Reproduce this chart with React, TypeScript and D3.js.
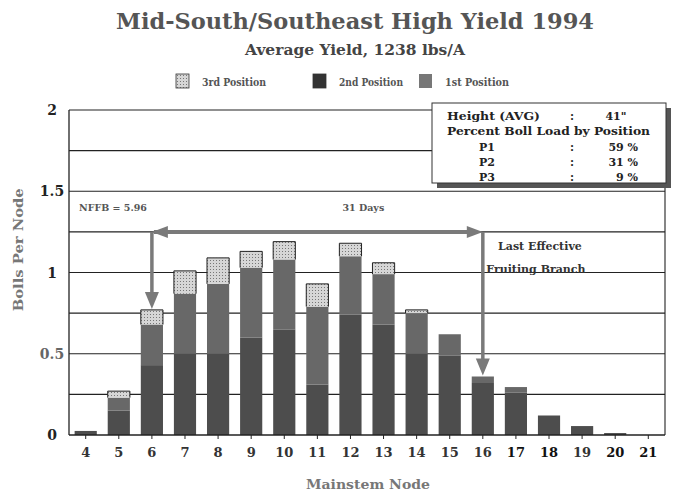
import React, { useEffect, useRef } from 'react';
import * as d3 from 'd3';

// Mainstem nodes and bolls per node by fruiting position
const nodes = ['4', '5', '6', '7', '8', '9', '10', '11', '12', '13', '14', '15', '16', '17', '18', '19', '20', '21'];
const pos1 = [0.025, 0.15, 0.43, 0.5, 0.5, 0.6, 0.65, 0.31, 0.74, 0.68, 0.5, 0.49, 0.32, 0.26, 0.12, 0.055, 0.012, 0];
const pos2 = [0, 0.08, 0.25, 0.37, 0.43, 0.43, 0.43, 0.48, 0.36, 0.31, 0.25, 0.13, 0.04, 0.035, 0, 0, 0, 0];
const pos3 = [0, 0.04, 0.09, 0.14, 0.16, 0.1, 0.11, 0.14, 0.08, 0.07, 0.02, 0, 0, 0, 0, 0, 0, 0];
const yTicks = [0, 0.5, 1, 1.5, 2];
const gridValues = [0.25, 0.5, 0.75, 1, 1.25, 1.5, 1.75, 2];
const insetRows = [
  ['Height (AVG)', ':', '41"'],
  ['P1', ':', '59 %'],
  ['P2', ':', '31 %'],
  ['P3', ':', '9 %'],
];

const App: React.FC = () => {
  const ref = useRef<SVGSVGElement | null>(null);

  useEffect(() => {
    const W = 678, H = 496;
    const margin = { top: 110, right: 13, bottom: 61, left: 69 };
    const width = W - margin.left - margin.right;
    const height = H - margin.top - margin.bottom;
    const font = '"DejaVu Serif", "Liberation Serif", serif';

    const root = d3.select(ref.current).attr('width', W).attr('height', H);
    root.selectAll('*').remove();
    root.append('rect').attr('width', W).attr('height', H).attr('fill', '#fff');

    const defs = root.append('defs');
    const pat = defs.append('pattern').attr('id', 'stip').attr('patternUnits', 'userSpaceOnUse')
      .attr('width', 3).attr('height', 3);
    pat.append('rect').attr('width', 3).attr('height', 3).attr('fill', '#d6d6d6');
    pat.append('rect').attr('width', 1).attr('height', 1).attr('fill', '#777');

    // titles
    root.append('text').attr('x', 355).attr('y', 29).attr('text-anchor', 'middle')
      .attr('font-family', font).attr('font-weight', 'bold').attr('font-size', 22).attr('fill', '#555')
      .attr('textLength', 478).attr('lengthAdjust', 'spacingAndGlyphs')
      .text('Mid-South/Southeast High Yield 1994');
    root.append('text').attr('x', 355).attr('y', 55).attr('text-anchor', 'middle')
      .attr('font-family', font).attr('font-weight', 'bold').attr('font-size', 14).attr('fill', '#444')
      .attr('textLength', 220).attr('lengthAdjust', 'spacingAndGlyphs')
      .text('Average Yield, 1238 lbs/A');

    // legend
    const legend = [
      { label: '3rd Position', fill: 'url(#stip)', x: 176 },
      { label: '2nd Position', fill: '#333', x: 313 },
      { label: '1st Position', fill: '#777', x: 419 },
    ];
    legend.forEach(l => {
      root.append('rect').attr('x', l.x).attr('y', 74).attr('width', 13).attr('height', 14)
        .attr('fill', l.fill).attr('stroke', l.fill === '#777' ? 'none' : '#333').attr('stroke-width', 0.8);
      root.append('text').attr('x', l.x + 26).attr('y', 86).attr('font-family', font)
        .attr('font-weight', 'bold').attr('font-size', 11).attr('fill', '#555')
        .attr('textLength', 64).attr('lengthAdjust', 'spacingAndGlyphs').text(l.label);
    });

    const svg = root.append('g').attr('transform', `translate(${margin.left},${margin.top})`);

    const x = d3.scaleBand().domain(nodes).range([0, width]).paddingInner(0.33).paddingOuter(0.17);
    const y = d3.scaleLinear().domain([0, 2]).range([height, 0]);

    // gridlines
    svg.append('g').selectAll('line').data(gridValues).enter().append('line')
      .attr('x1', 0).attr('x2', width)
      .attr('y1', d => y(d)).attr('y2', d => y(d))
      .attr('stroke', '#222').attr('stroke-width', 1.1);

    // stacked bars
    const rows = nodes.map((n, i) => ({ node: n, p1: pos1[i], p2: pos2[i], p3: pos3[i] }));
    const stack = d3.stack<any>().keys(['p1', 'p2', 'p3'])(rows);
    const colors: Record<string, string> = { p1: '#4d4d4d', p2: '#686868', p3: 'url(#stip)' };
    stack.forEach(layer => {
      svg.append('g').selectAll('rect').data(layer).enter().append('rect')
        .attr('x', d => x(d.data.node) as number)
        .attr('width', x.bandwidth())
        .attr('y', d => y(d[1]))
        .attr('height', d => Math.max(0, y(d[0]) - y(d[1])))
        .attr('fill', colors[layer.key]);
    });
    // outline at top of stipple
    svg.append('g').selectAll('path').data(rows.filter(r => r.p3 > 0)).enter().append('path')
      .attr('d', d => {
        const x0 = x(d.node) as number, x1 = x0 + x.bandwidth();
        const yt = y(d.p1 + d.p2 + d.p3), yb = y(d.p1 + d.p2);
        return `M${x0},${yb}V${yt}H${x1}V${yb}`;
      })
      .attr('fill', 'none').attr('stroke', '#222').attr('stroke-width', 1);

    // axes frame
    svg.append('line').attr('x1', 0).attr('x2', 0).attr('y1', 0).attr('y2', height).attr('stroke', '#222').attr('stroke-width', 1.3);
    svg.append('line').attr('x1', width).attr('x2', width).attr('y1', 0).attr('y2', height).attr('stroke', '#222').attr('stroke-width', 1.1);
    svg.append('line').attr('x1', 0).attr('x2', width).attr('y1', height).attr('y2', height).attr('stroke', '#222').attr('stroke-width', 1.3);

    // x ticks and labels
    svg.append('g').selectAll('line').data(nodes).enter().append('line')
      .attr('x1', d => (x(d) as number) + x.bandwidth() / 2).attr('x2', d => (x(d) as number) + x.bandwidth() / 2)
      .attr('y1', height).attr('y2', height + 4).attr('stroke', '#222');
    svg.append('g').selectAll('text').data(nodes).enter().append('text')
      .attr('x', d => (x(d) as number) + x.bandwidth() / 2)
      .attr('y', height + 22).attr('text-anchor', 'middle')
      .attr('font-family', font).attr('font-weight', 'bold').attr('font-size', 13)
      .attr('fill', d => (+d >= 17 && +d !== 19 ? '#111' : '#333'))
      .text(d => d);

    // y labels
    svg.append('g').selectAll('text').data(yTicks).enter().append('text')
      .attr('x', -17).attr('y', d => y(d) + 5).attr('text-anchor', 'middle')
      .attr('font-family', font).attr('font-weight', 'bold').attr('font-size', 14)
      .attr('fill', d => (d === 0.5 ? '#666' : '#222'))
      .text(d => String(d));

    // axis titles
    root.append('text').attr('transform', `translate(23,${margin.top + y(1.14)}) rotate(-90)`)
      .attr('text-anchor', 'middle').attr('font-family', font).attr('font-weight', 'bold')
      .attr('font-size', 13).attr('fill', '#777')
      .attr('textLength', 123).attr('lengthAdjust', 'spacingAndGlyphs').text('Bolls Per Node');
    root.append('text').attr('x', 368).attr('y', 489).attr('text-anchor', 'middle')
      .attr('font-family', font).attr('font-weight', 'bold').attr('font-size', 13).attr('fill', '#777')
      .attr('textLength', 124).attr('lengthAdjust', 'spacingAndGlyphs').text('Mainstem Node');

    // arrows between first and last effective fruiting branch
    const cx = (n: string) => (x(n) as number) + x.bandwidth() / 2;
    const aColor = '#7a7a7a';
    const ya = y(1.25);
    const xL = cx('6'), xR = cx('16');
    svg.append('line').attr('x1', xL + 2).attr('x2', xR - 12).attr('y1', ya).attr('y2', ya)
      .attr('stroke', aColor).attr('stroke-width', 4);
    svg.append('path').attr('d', `M${xL},${ya}L${xL + 16},${ya - 6}L${xL + 16},${ya + 6}Z`).attr('fill', aColor);
    svg.append('path').attr('d', `M${xR},${ya}L${xR - 16},${ya - 6}L${xR - 16},${ya + 6}Z`).attr('fill', aColor);
    [{ n: '6', v: pos1[2] + pos2[2] + pos3[2] }, { n: '16', v: pos1[12] + pos2[12] + pos3[12] }].forEach(a => {
      const xv = cx(a.n), yt = y(a.v) - 1;
      svg.append('line').attr('x1', xv).attr('x2', xv).attr('y1', ya).attr('y2', yt - 14)
        .attr('stroke', aColor).attr('stroke-width', 3.5);
      svg.append('path').attr('d', `M${xv},${yt}L${xv - 7},${yt - 17}L${xv + 7},${yt - 17}Z`).attr('fill', aColor);
    });

    // annotations
    svg.append('text').attr('x', 10).attr('y', y(1.38)).attr('font-family', font).attr('font-weight', 'bold')
      .attr('font-size', 9.5).attr('fill', '#555').text('NFFB = 5.96');
    svg.append('text').attr('x', (xL + xR) / 2 + 46).attr('y', y(1.38)).attr('text-anchor', 'middle')
      .attr('font-family', font).attr('font-weight', 'bold').attr('font-size', 9.5).attr('fill', '#555').text('31 Days');
    svg.append('text').attr('x', cx('17') + 24).attr('y', y(1.14)).attr('text-anchor', 'middle')
      .attr('font-family', font).attr('font-weight', 'bold').attr('font-size', 11).attr('fill', '#333').text('Last Effective');
    svg.append('text').attr('x', cx('17') + 20).attr('y', y(1.0)).attr('text-anchor', 'middle')
      .attr('font-family', font).attr('font-weight', 'bold').attr('font-size', 11).attr('fill', '#333').text('Fruiting Branch');

    // inset box with shadow
    const bx = 432, by = 103, bw = 234, bh = 80;
    root.append('rect').attr('x', bx + 5).attr('y', by + 5).attr('width', bw).attr('height', bh).attr('fill', '#555');
    root.append('rect').attr('x', bx).attr('y', by).attr('width', bw).attr('height', bh)
      .attr('fill', '#fff').attr('stroke', '#333').attr('stroke-width', 1);
    const rowY = [120, 151, 166, 181];
    insetRows.forEach((r, i) => {
      const t = (xx: number, s: string, anchor: string) => root.append('text').attr('x', xx).attr('y', rowY[i])
        .attr('text-anchor', anchor).attr('font-family', font).attr('font-weight', 'bold')
        .attr('font-size', 11).attr('fill', '#222').text(s);
      if (i === 0) t(447, r[0], 'start').attr('textLength', 93).attr('lengthAdjust', 'spacingAndGlyphs');
      else t(487, r[0], 'middle');
      t(572, r[1], 'middle');
      t(i === 0 ? 616 : 638, r[2], i === 0 ? 'middle' : 'end');
    });
    root.append('text').attr('x', 447).attr('y', 135).attr('font-family', font).attr('font-weight', 'bold')
      .attr('font-size', 11).attr('fill', '#222').attr('textLength', 203).attr('lengthAdjust', 'spacingAndGlyphs')
      .text('Percent Boll Load by Position');
  }, []);

  return <svg ref={ref} style={{ position: 'absolute', left: 0, top: 0 }}></svg>;
};

export default App;
